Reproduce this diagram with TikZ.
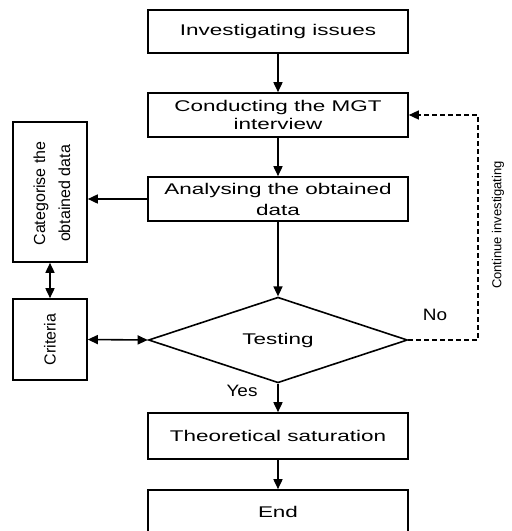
\documentclass[tikz,border=0pt]{standalone}
\usepackage{fontspec}
\setmainfont{Liberation Sans}
\newfontfamily\boxfont[FakeStretch=1.45]{Liberation Sans}
\newfontfamily\lblfont[FakeStretch=1.15]{Liberation Sans}
\usetikzlibrary{shapes.geometric,arrows.meta}
\begin{document}
\begin{tikzpicture}[x=1pt,y=-1pt,
  stage/.style={draw,line width=1.6pt,rectangle,minimum width=260pt,inner sep=0pt,
    align=center,font=\boxfont\fontsize{15.5}{18}\selectfont},
  sidebox/.style={draw,line width=1.6pt,rectangle,minimum width=74pt,inner sep=0pt},
  sidetext/.style={rotate=90,align=center,inner sep=0pt,font=\fontsize{16}{25}\selectfont},
  decision/.style={draw,line width=1.6pt,diamond,minimum width=259pt,minimum height=69pt,
    inner sep=0pt,font=\boxfont\fontsize{15.5}{18}\selectfont},
  flow/.style={line width=1.6pt,-{Triangle[length=10pt,width=9pt]}},
  twoway/.style={line width=1.6pt,{Triangle[length=10pt,width=9pt]}-{Triangle[length=10pt,width=9pt]}},
  back/.style={line width=1.4pt,dash pattern=on 5pt off 3pt,-{Triangle[length=10pt,width=9pt]}},
  lbl/.style={inner sep=0pt,font=\lblfont\fontsize{16.5}{18}\selectfont}]
\useasboundingbox (0,0) rectangle (512,531);

% main column
\node[stage,minimum height=43pt] (inv) at (278,31.5) {Investigating issues};
\node[stage,minimum height=44pt] (mgt) at (278,115) {Conducting the MGT\\interview};
\node[stage,minimum height=44pt] (ana) at (278,199) {Analysing the obtained\\[3pt]data};
\node[decision] (test) at (278,340) {Testing};
\node[stage,minimum height=46pt] (sat) at (278,436) {Theoretical saturation};
\node[stage,minimum height=44pt] (end) at (278,512) {End};

% side column
\node[sidebox,minimum height=140pt] (cat) at (50,192) {};
\node[sidetext] (cattext) at (52,193.5) {Categorise the\\obtained data};
\node[sidebox,minimum height=81pt] (crit) at (50,339.5) {};
\node[sidetext] (crittext) at (50,339.5) {Criteria};

% connectors
\draw[flow] (inv) -- (mgt);
\draw[flow] (mgt) -- (ana);
\draw[flow] (ana) -- (test.north);
\draw[flow] (test.south) -- (sat);
\draw[flow] (sat) -- (end);
\draw[flow] (ana.west) -- (ana.west -| cat.east);
\draw[twoway] (cat) -- (crit);
\draw[twoway] (crit.east) -- (test.west);

% loop back when testing fails
\coordinate (ret) at (478,115);
\draw[back] (test.east) -| (ret) -- (mgt.east);

% labels
\node[lbl] (yes) at (242,391) {Yes};
\node[lbl] (no) at (435,315) {No};
\node[rotate=90,inner sep=0pt,font=\fontsize{13}{15}\selectfont] (cont) at (498,225) {Continue investigating};
\end{tikzpicture}
\end{document}
